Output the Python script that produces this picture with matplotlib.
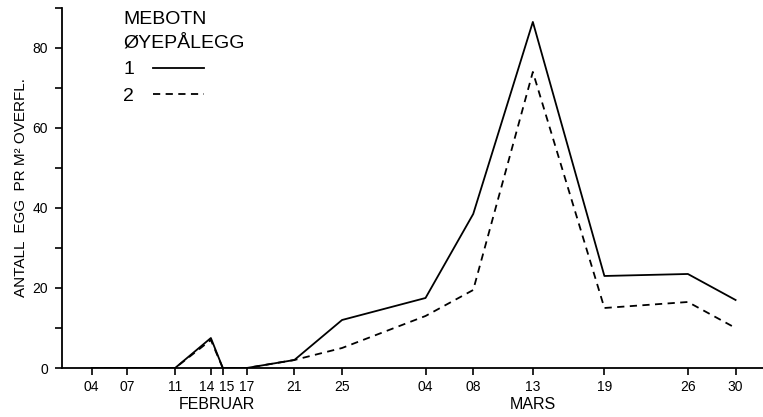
import matplotlib
matplotlib.use("Agg")
import matplotlib.pyplot as plt
from matplotlib.ticker import MultipleLocator
from matplotlib.transforms import ScaledTranslation

# dates as day of year (Feb 4 = 35 ... Mar 30 = 89)
days = [35, 38, 42, 45, 46, 48, 52, 56, 63, 67, 72, 78, 85, 89]
day_labels = ["04", "07", "11", "14", "15", "17", "21", "25", "04", "08", "13", "19", "26", "30"]
serie1 = [0, 0, 0, 7.5, 0, 0, 2, 12, 17.5, 38.5, 86.5, 23, 23.5, 17]
serie2 = [0, 0, 0, 7, 0, 0, 2, 5, 13, 19.5, 74, 15, 16.5, 10]

plt.rcParams['font.family'] = ["Liberation Sans", "DejaVu Sans"]

fig = plt.figure(figsize=(7.63, 4.17), dpi=100)
ax = fig.add_axes([0.081, 0.1175, 0.919, 0.8635])

ax.plot(days, serie1, color="black", lw=1.3, label="1")
ax.plot(days, serie2, color="black", lw=1.3, ls=(0, (4, 3)), label="2")

ax.set_xlim(32.5, 91.3)
ax.set_ylim(0, 90)

ax.spines['top'].set_visible(False)
ax.spines['right'].set_visible(False)
ax.spines['left'].set_linewidth(1.3)
ax.spines['bottom'].set_linewidth(1.3)

ax.set_xticks(days)
ax.set_xticklabels(day_labels, fontsize=10)
ax.set_yticks([0, 20, 40, 60, 80])
ax.set_yticklabels(["0", "20", "40", "60", "80"], fontsize=10)
ax.yaxis.set_minor_locator(MultipleLocator(10))
ax.tick_params(axis="both", which="both", length=5, width=1.2, direction="out")
ax.tick_params(axis="y", pad=5)

# the 14 and 15 labels sit close together; push them apart a little
xt = ax.get_xticklabels()
xt[3].set_transform(xt[3].get_transform() + ScaledTranslation(-3 / 72, 0, fig.dpi_scale_trans))
xt[4].set_transform(xt[4].get_transform() + ScaledTranslation(3 / 72, 0, fig.dpi_scale_trans))

ax.set_ylabel("ANTALL  EGG  PR M² OVERFL.", fontsize=11, labelpad=3)

ax.text(45.5, -0.08, "FEBRUAR", transform=ax.get_xaxis_transform(), ha="center", va="top", fontsize=11.5)
ax.text(72, -0.08, "MARS", transform=ax.get_xaxis_transform(), ha="center", va="top", fontsize=11.5)

leg = ax.legend(title="MEBOTN\nØYEPÅLEGG", loc="upper left", bbox_to_anchor=(0.068, 1.028),
                frameon=False, markerfirst=False, handlelength=2.6, fontsize=14,
                title_fontsize=14, alignment="left", labelspacing=0.45, handletextpad=1.0,
                borderpad=0.2)
leg._legend_title_box._text.set_linespacing(1.5)

fig.savefig("out.png", dpi=100)
